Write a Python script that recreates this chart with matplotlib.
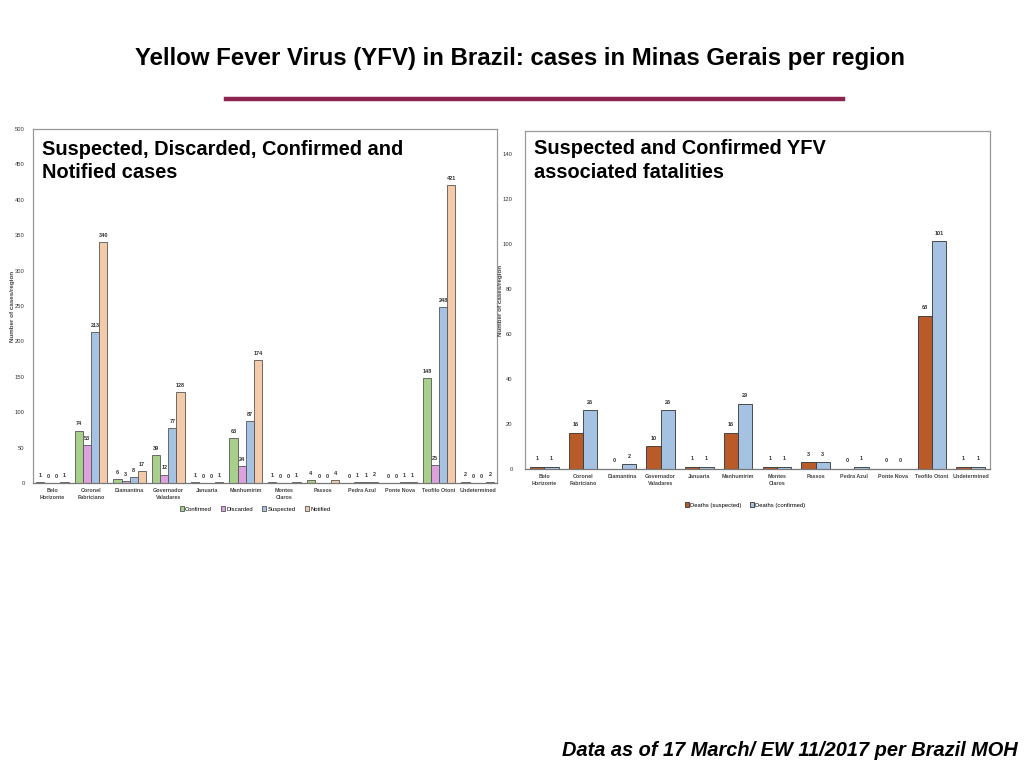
import numpy as np
import matplotlib.pyplot as plt
from matplotlib.lines import Line2D

plt.rcParams['font.family'] = ['Liberation Sans', 'DejaVu Sans']

# === Data ===
regions = ["Belo\nHorizonte", "Coronel\nFabriciano", "Diamantina", "Governador\nValadares",
           "Januaria", "Manhumirim", "Montes\nClaros", "Passos", "Pedra Azul",
           "Ponte Nova", "Teofilo Otoni", "Undetermined"]

confirmed = [1, 74, 6, 39, 1, 63, 1, 4, 0, 0, 148, 2]
discarded = [0, 53, 3, 12, 0, 24, 0, 0, 1, 0, 25, 0]
suspected = [0, 213, 8, 77, 0, 87, 0, 0, 1, 1, 248, 0]
notified = [1, 340, 17, 128, 1, 174, 1, 4, 2, 1, 421, 2]

deaths_suspected = [1, 16, 0, 10, 1, 16, 1, 3, 0, 0, 68, 1]
deaths_confirmed = [1, 26, 2, 26, 1, 29, 1, 3, 1, 0, 101, 1]

# === Styles ===
c_conf, c_disc, c_susp, c_noti = "#A9CF8C", "#DDA2DD", "#A5C2E3", "#F4CBAA"
c_dsusp, c_dconf = "#B85B28", "#A5C2E3"
edge = "#555555"
spine_col = "#999999"

fig = plt.figure(figsize=(10.24, 7.68), dpi=100)

fig.text(0.508, 0.924, "Yellow Fever Virus (YFV) in Brazil: cases in Minas Gerais per region",
         ha="center", va="center", fontsize=17.3, fontweight="bold")
fig.add_artist(Line2D([226/1024, 843/1024], [1-99/768, 1-99/768], color="#8C2450", lw=3.2))
fig.text(1018/1024, 1-750/768, "Data as of 17 March/ EW 11/2017 per Brazil MOH",
         ha="right", va="center", fontsize=14.4, fontweight="bold", style="italic")


def style_axes(ax):
    for s in ["left", "top", "right"]:
        ax.spines[s].set_color(spine_col)
        ax.spines[s].set_linewidth(0.9)
    ax.spines["bottom"].set_color("#777777")
    ax.spines["bottom"].set_linewidth(0.9)
    ax.tick_params(axis="both", length=0, labelsize=4.2, colors="#333333")
    ax.tick_params(axis="y", pad=6)
    ax.set_xlim(-0.5, len(regions) - 0.5)
    ax.set_xticks(np.arange(len(regions)))
    ax.set_xticklabels(regions, fontsize=3.9, fontweight="bold", color="#444444", linespacing=1.6)


# === Left chart ===
ax1 = fig.add_axes([33/1024, 1-483/768, 464/1024, 354/768])
x = np.arange(len(regions))
w = 0.21
series = [("Confirmed", confirmed, c_conf), ("Discarded", discarded, c_disc),
          ("Suspected", suspected, c_susp), ("Notified", notified, c_noti)]
handles = []
for i, (name, vals, col) in enumerate(series):
    b = ax1.bar(x + (i - 1.5) * w, vals, w, color=col, edgecolor=edge, linewidth=0.6, label=name)
    ax1.bar_label(b, padding=3, fontsize=4, fontweight="bold", color="#333333")
    handles.append(b)
ax1.set_ylim(0, 500)
ax1.set_yticks(np.arange(0, 501, 50))
style_axes(ax1)
ax1.set_ylabel("Number of cases/region", fontsize=4.5, fontweight="bold", color="#444444", labelpad=0)
ax1.text(0.019, 0.97, "Suspected, Discarded, Confirmed and\nNotified cases", transform=ax1.transAxes,
         ha="left", va="top", fontsize=14.4, fontweight="bold", linespacing=1.3)
fig.legend(handles=handles, loc="center", bbox_to_anchor=(255/1024, 1-509/768), ncol=4,
           frameon=False, handlelength=0.7, handleheight=0.7, handletextpad=0.2,
           columnspacing=1.6, prop={"size": 4.2})

# === Right chart ===
ax2 = fig.add_axes([525/1024, 1-469/768, 465/1024, 338/768])
w2 = 0.37
b1 = ax2.bar(x - w2/2, deaths_suspected, w2, color=c_dsusp, edgecolor="#333333", linewidth=0.6,
             label="Deaths (suspected)")
b2 = ax2.bar(x + w2/2, deaths_confirmed, w2, color=c_dconf, edgecolor="#333333", linewidth=0.6,
             label="Deaths (confirmed)")
for b in (b1, b2):
    ax2.bar_label(b, padding=4, fontsize=4, fontweight="bold", color="#333333")
ax2.set_ylim(0, 150)
ax2.set_yticks(np.arange(0, 141, 20))
style_axes(ax2)
ax2.tick_params(axis="y", pad=9)
ax2.set_ylabel("Number of cases/region", fontsize=4.5, fontweight="bold", color="#444444", labelpad=0)
ax2.text(0.02, 0.975, "Suspected and Confirmed YFV\nassociated fatalities", transform=ax2.transAxes,
         ha="left", va="top", fontsize=14.4, fontweight="bold", linespacing=1.3)
fig.legend(handles=[b1, b2], loc="center", bbox_to_anchor=(745/1024, 1-505/768), ncol=2,
           frameon=False, handlelength=0.7, handleheight=0.7, handletextpad=0.2,
           columnspacing=1.5, prop={"size": 4.2})

fig.savefig("out.png", dpi=100)
